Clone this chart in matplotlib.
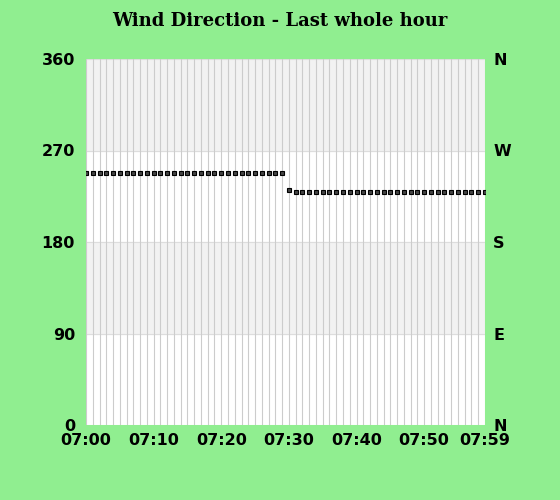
import matplotlib
matplotlib.use("Agg")
import matplotlib.pyplot as plt

minutes = list(range(60))
directions = [248] * 30 + [231] + [229] * 29
y_ticks = [0, 90, 180, 270, 360]
compass = ["N", "E", "S", "W", "N"]
x_ticks = [0, 10, 20, 30, 40, 50, 59]
x_labels = ["07:00", "07:10", "07:20", "07:30", "07:40", "07:50", "07:59"]

fig = plt.figure(figsize=(5.6, 5.0), dpi=100, facecolor="#90EE90")
ax = fig.add_axes([86/560, 75/500, 399/560, 366/500])
ax.set_facecolor("white")

# shaded bands
for lo, hi in [(270, 360), (90, 180)]:
    ax.axhspan(lo, hi, color="#f2f2f2", zorder=0)
for y in y_ticks:
    ax.axhline(y, color="#dddddd", lw=0.8, zorder=1)
for m in minutes:
    ax.axvline(m, color="#cccccc", lw=0.8, zorder=1)

ax.plot(minutes, directions, ls="none", marker="s", markersize=3.5,
        markerfacecolor="#444444", markeredgecolor="black", markeredgewidth=0.8, zorder=3)

ax.set_xlim(0, 59)
ax.set_ylim(0, 360)
ax.set_yticks(y_ticks)
ax.set_yticklabels([str(v) for v in y_ticks], fontsize=11.5, fontweight="bold")
ax.set_xticks(x_ticks)
ax.set_xticklabels(x_labels, fontsize=11.5, fontweight="bold")
ax.tick_params(axis="y", length=0, pad=8)
ax.tick_params(axis="x", length=0, pad=6)

ax2 = ax.twinx()
ax2.set_ylim(0, 360)
ax2.set_yticks(y_ticks)
ax2.set_yticklabels(compass, fontsize=11.5, fontweight="bold")
ax2.tick_params(length=0, pad=6)

for a in (ax, ax2):
    for s in a.spines.values():
        s.set_visible(False)

fig.text(0.5, 0.975, "Wind Direction - Last whole hour", ha="center", va="top",
         fontsize=13, fontweight="bold", family="DejaVu Serif")

fig.savefig("out.png", dpi=100, facecolor=fig.get_facecolor())
